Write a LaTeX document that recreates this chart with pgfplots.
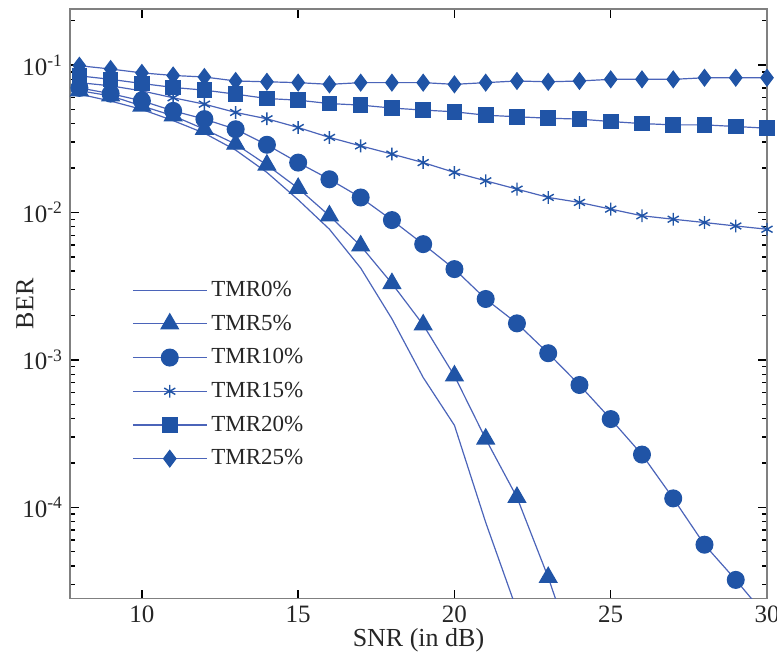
\documentclass[border=0pt]{standalone}
\usepackage{fontspec}
\setmainfont{Liberation Serif}
\usepackage{pgfplots}
\pgfplotsset{compat=1.18}
\definecolor{mk}{RGB}{32,84,166}
\definecolor{ln}{RGB}{75,100,185}
\begin{document}
\begin{tikzpicture}
\begin{axis}[
  at={(0,0)}, anchor=south west,
  width=348.5pt, height=294.85pt, scale only axis,
  ymode=log, xmin=7.7, xmax=30, ymin=2.4e-5, ymax=0.24,
  xtick={10,15,20,25,30}, xticklabels={10,15,20,25,30},
  ytick={1e-4,1e-3,1e-2,1e-1},
  yticklabels={10\textsuperscript{-4},10\textsuperscript{-3},10\textsuperscript{-2},10\textsuperscript{-1}},
  minor ytick={3e-5,4e-5,5e-5,6e-5,7e-5,8e-5,9e-5,2e-4,3e-4,4e-4,5e-4,6e-4,7e-4,8e-4,9e-4,2e-3,3e-3,4e-3,5e-3,6e-3,7e-3,8e-3,9e-3,2e-2,3e-2,4e-2,5e-2,6e-2,7e-2,8e-2,9e-2,2e-1},
  tick align=inside, major tick length=4.5pt, minor tick length=2.5pt,
  tick style={black, line width=0.7pt},
  axis line style={black!50, line width=0.6pt},
  ticklabel style={font=\fontsize{12.5}{14}\selectfont, text=black!85},
  xlabel={SNR (in dB)}, ylabel={BER},
  label style={font=\fontsize{13}{15}\selectfont, text=black!85},
  xlabel style={at={(axis description cs:0.5,-0.0712)}, anchor=center},
  ylabel style={at={(axis description cs:-0.0646,0.5)}, anchor=center},
  legend style={draw=none, fill=none, at={(axis description cs:0.08,0.553)}, anchor=north west,
    font=\fontsize{11.5}{13}\selectfont, row sep=3.7pt, text=black!85},
  legend cell align=left,
  legend image code/.code={\draw[#1, mark repeat=2, mark phase=2] plot coordinates {(0pt,0pt) (18.5pt,0pt) (37pt,0pt)};},
  every axis plot/.append style={color=ln, line width=0.6pt},
]
\addplot[mark=none] coordinates {
(8,0.0635) (9,0.057) (10,0.050) (11,0.042) (12,0.0345) (13,0.0265) (14,0.0187) (15,0.0122)
(16,0.0077) (17,0.0042) (18,0.0019) (19,0.00076) (20,0.00036) (21,7.9e-5) (22,2.0e-5)};
\addlegendentry{TMR0\%}
\addplot[mark=triangle*, mark size=5pt, mark options={fill=mk, draw=mk, solid}] coordinates {
(8,0.067) (9,0.0618) (10,0.0528) (11,0.0453) (12,0.0367) (13,0.0291) (14,0.0210) (15,0.0146)
(16,0.0095) (17,0.00594) (18,0.0033) (19,0.00173) (20,0.00078) (21,0.000291) (22,0.000117) (23,3.35e-5) (24,8e-6)};
\addlegendentry{TMR5\%}
\addplot[mark=*, mark size=4.2pt, mark options={fill=mk, draw=mk, solid}] coordinates {
(8,0.070) (9,0.064) (10,0.0572) (11,0.0489) (12,0.043) (13,0.0367) (14,0.0288) (15,0.0218)
(16,0.0168) (17,0.01264) (18,0.00888) (19,0.0061) (20,0.00413) (21,0.00259) (22,0.00177)
(23,0.00111) (24,0.000676) (25,0.000397) (26,0.000228) (27,0.000115) (28,5.58e-5) (29,3.22e-5) (30,1.8e-5)};
\addlegendentry{TMR10\%}
\addplot[mark=asterisk, mark size=3.2pt, mark options={draw=mk, solid, line width=0.7pt}] coordinates {
(8,0.076) (9,0.0723) (10,0.0668) (11,0.060) (12,0.0543) (13,0.0477) (14,0.0432) (15,0.0377)
(16,0.0323) (17,0.0283) (18,0.0249) (19,0.0218) (20,0.0187) (21,0.0164) (22,0.0144) (23,0.01265)
(24,0.0117) (25,0.01054) (26,0.0095) (27,0.0090) (28,0.00855) (29,0.0081) (30,0.0077)};
\addlegendentry{TMR15\%}
\addplot[mark=square*, mark size=3.6pt, mark options={fill=mk, draw=mk, solid}] coordinates {
(8,0.0845) (9,0.080) (10,0.075) (11,0.0705) (12,0.0676) (13,0.0635) (14,0.0593) (15,0.0578)
(16,0.0548) (17,0.0535) (18,0.0511) (19,0.0495) (20,0.0482) (21,0.0457) (22,0.0446) (23,0.0436)
(24,0.043) (25,0.0414) (26,0.0401) (27,0.0393) (28,0.0393) (29,0.0383) (30,0.0373)};
\addlegendentry{TMR20\%}
\addplot[mark=diamond*, mark size=4.1pt, mark options={fill=mk, draw=mk, solid}] coordinates {
(8,0.099) (9,0.094) (10,0.0885) (11,0.085) (12,0.083) (13,0.078) (14,0.077) (15,0.076)
(16,0.074) (17,0.076) (18,0.076) (19,0.076) (20,0.074) (21,0.076) (22,0.078) (23,0.077)
(24,0.078) (25,0.080) (26,0.080) (27,0.080) (28,0.082) (29,0.082) (30,0.082)};
\addlegendentry{TMR25\%}
\end{axis}
\pgfresetboundingbox
\path[use as bounding box] (-35pt,-28.15pt) rectangle (353.5pt,299.35pt);
\end{tikzpicture}
\end{document}
